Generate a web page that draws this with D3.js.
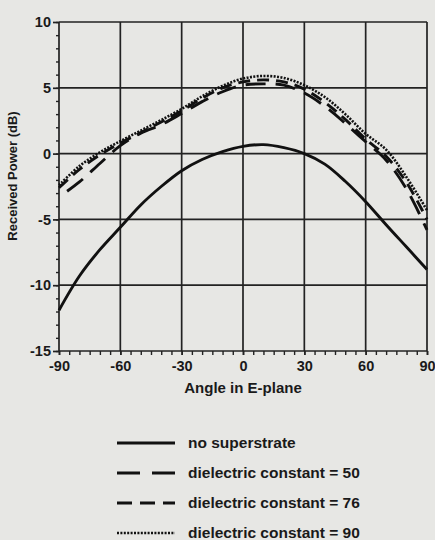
<!DOCTYPE html>
<html>
<head>
<meta charset="utf-8">
<script src="https://cdn.jsdelivr.net/npm/d3@7"></script>
<style>
  body { margin: 0; background: #e7e7e4; }
  svg text { font-family: "Liberation Sans", Arial, sans-serif; font-weight: bold; fill: #1a1a1a; }
</style>
</head>
<body>
<div id="chart"></div>
<script>
// angles in E-plane (deg)
var angles = [-90, -80, -70, -60, -50, -40, -30, -20, -10, 0, 10, 20, 30, 40, 50, 60, 70, 80, 90];

// received power (dB)
var noSuperstrate = [-11.9, -9.3, -7.3, -5.6, -3.9, -2.5, -1.3, -0.45, 0.15, 0.55, 0.68, 0.45, 0.0, -0.8, -2.1, -3.65, -5.4, -7.1, -8.8];
var eps50 = [-3.3, -2.15, -0.75, 0.6, 1.55, 2.2, 3.05, 3.95, 4.7, 5.2, 5.3, 5.2, 4.6, 3.6, 2.3, 0.9, -0.5, -2.7, -5.8];
var eps76 = [-2.6, -1.2, -0.1, 0.8, 1.6, 2.4, 3.25, 4.2, 5.0, 5.45, 5.6, 5.45, 4.9, 3.9, 2.6, 1.1, -0.2, -2.2, -5.0];
var eps90 = [-2.4, -0.95, 0.1, 0.95, 1.75, 2.55, 3.4, 4.35, 5.15, 5.7, 5.9, 5.75, 5.2, 4.3, 3.0, 1.5, 0.3, -1.8, -4.3];

var xTicks = [-90, -60, -30, 0, 30, 60, 90];
var yTicks = [-15, -10, -5, 0, 5, 10];

var seriesNames = ["no superstrate", "dielectric constant = 50", "dielectric constant = 76", "dielectric constant = 90"];
var seriesDash = [null, "20,10", "12,7", "2,1.4"];

var width = 435, height = 540;
var margin = {top: 22, right: 8, bottom: 189, left: 59};
var w = width - margin.left - margin.right,
    h = height - margin.top - margin.bottom;

var svg = d3.select("#chart").append("svg")
    .attr("width", width)
    .attr("height", height);

var g = svg.append("g")
    .attr("transform", "translate(" + margin.left + "," + margin.top + ")");

var x = d3.scaleLinear().domain([-90, 90]).range([0, w]);
var y = d3.scaleLinear().domain([-15, 10]).range([h, 0]);

// grid
g.selectAll("line.vgrid")
    .data(xTicks)
  .enter().append("line")
    .attr("x1", function(d) { return x(d); })
    .attr("x2", function(d) { return x(d); })
    .attr("y1", 0).attr("y2", h)
    .attr("stroke", "#222").attr("stroke-width", 1.7);
g.selectAll("line.hgrid")
    .data(yTicks)
  .enter().append("line")
    .attr("x1", 0).attr("x2", w)
    .attr("y1", function(d) { return y(d); })
    .attr("y2", function(d) { return y(d); })
    .attr("stroke", "#222").attr("stroke-width", 1.7);

// minor ticks
g.append("g")
    .attr("transform", "translate(0," + h + ")")
    .call(d3.axisBottom(x).tickValues(d3.range(-90, 91, 5)).tickSize(4).tickFormat(""))
    .call(function(a) { a.select(".domain").remove(); a.selectAll("line").attr("stroke", "#222").attr("stroke-width", 1.4); });
g.append("g")
    .call(d3.axisLeft(y).tickValues(d3.range(-15, 11, 1)).tickSize(3).tickFormat(""))
    .call(function(a) { a.select(".domain").remove(); a.selectAll("line").attr("stroke", "#222").attr("stroke-width", 1.4); });

// labeled axes (plain hyphen for minus, like the original)
var fmt = function(d) { return String(d); };
var xAxis = g.append("g")
    .attr("transform", "translate(0," + h + ")")
    .call(d3.axisBottom(x).tickValues(xTicks).tickSize(4).tickPadding(6).tickFormat(fmt));
var yAxis = g.append("g")
    .call(d3.axisLeft(y).tickValues(yTicks).tickSize(6).tickPadding(2).tickFormat(fmt));
[xAxis, yAxis].forEach(function(a) {
    a.select(".domain").remove();
    a.selectAll("line").attr("stroke", "#222").attr("stroke-width", 1.7);
    a.selectAll("text").style("font-size", "14.5px").attr("fill", "#1a1a1a");
});

// curves
var line = d3.line()
    .x(function(d) { return x(d[0]); })
    .y(function(d) { return y(d[1]); })
    .curve(d3.curveCatmullRom.alpha(0.5));

[noSuperstrate, eps50, eps76, eps90].forEach(function(vals, i) {
    g.append("path")
        .datum(angles.map(function(a, j) { return [a, vals[j]]; }))
        .attr("d", line)
        .attr("fill", "none")
        .attr("stroke", "#111")
        .attr("stroke-width", i == 3 ? 2.6 : 2.9)
        .attr("stroke-dasharray", seriesDash[i])
        .attr("stroke-dashoffset", i == 1 ? 20 : 0);
});

// axis titles
svg.append("text")
    .attr("text-anchor", "middle")
    .attr("transform", "translate(" + (margin.left + x(0)) + ",393)")
    .style("font-size", "15px")
    .text("Angle in E-plane");
svg.append("text")
    .attr("text-anchor", "middle")
    .attr("transform", "translate(17,176)rotate(-90)")
    .style("font-size", "13px")
    .text("Received Power (dB)");

// legend
var legend = svg.append("g");
seriesNames.forEach(function(name, i) {
    var ly = 443 + i * 30;
    legend.append("line")
        .attr("x1", 117).attr("x2", 175)
        .attr("y1", ly).attr("y2", ly)
        .attr("stroke", "#111")
        .attr("stroke-width", i == 3 ? 2.6 : 3)
        .attr("stroke-dasharray", i == 1 ? "23,12" : i == 2 ? "15,8" : seriesDash[i]);
    legend.append("text")
        .attr("x", 188).attr("y", ly + 5)
        .style("font-size", "15.5px")
        .text(name);
});
</script>
</body>
</html>
